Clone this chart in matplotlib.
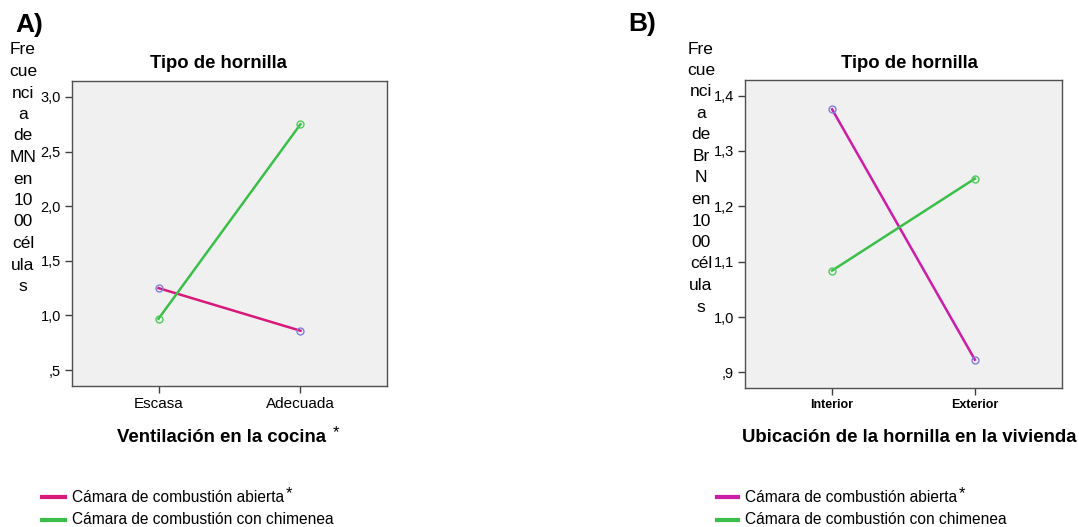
import matplotlib
matplotlib.use("Agg")
import matplotlib.pyplot as plt

plt.rcParams["font.family"] = ["Liberation Sans", "DejaVu Sans"]

# Panel A: micronuclei vs kitchen ventilation
vent_cats = ["Escasa", "Adecuada"]
mn_abierta = [1.25, 0.86]
mn_chimenea = [0.97, 2.75]
mn_ticks = [0.5, 1.0, 1.5, 2.0, 2.5, 3.0]
mn_ticklabels = [",5", "1,0", "1,5", "2,0", "2,5", "3,0"]

# Panel B: binucleated cells vs stove location
ubic_cats = ["Interior", "Exterior"]
brn_abierta = [1.375, 0.923]
brn_chimenea = [1.084, 1.250]
brn_ticks = [0.9, 1.0, 1.1, 1.2, 1.3, 1.4]
brn_ticklabels = [",9", "1,0", "1,1", "1,2", "1,3", "1,4"]

series_names = ["Cámara de combustión abierta", "Cámara de combustión con chimenea"]

W, H = 1079, 527
fig = plt.figure(figsize=(W / 100, H / 100), dpi=100)


def px(x0, y0, x1, y1):
    return [x0 / W, 1 - y1 / H, (x1 - x0) / W, (y1 - y0) / H]


def panel(rect, cats, ab, ch, ticks, ticklabels, ylim, ab_color, bold_x, xfs, yfs):
    ax = fig.add_axes(rect)
    ax.set_facecolor("#f0f0f0")
    xs = range(len(cats))
    ax.plot(xs, ab, color=ab_color, lw=1.8, marker="o", ms=5, mfc="none",
            mec="#7f7fe0", mew=1.0, zorder=3)
    ax.plot(xs, ch, color="#3cbf4a", lw=1.8, marker="o", ms=5, mfc="none",
            mec="#4ccc5a", mew=1.0, zorder=3)
    ax.set_xlim(-0.61, 1.61)
    ax.set_ylim(*ylim)
    ax.set_xticks(list(xs))
    ax.set_xticklabels(cats, fontsize=xfs, fontweight="bold" if bold_x else "normal")
    ax.set_yticks(ticks)
    ax.set_yticklabels(ticklabels, fontsize=yfs)
    ax.tick_params(length=5, width=1, color="#404040", pad=3)
    for s in ax.spines.values():
        s.set_color("#505050")
        s.set_linewidth(1.0)
    return ax


panel(px(72, 81, 387, 386), vent_cats, mn_abierta, mn_chimenea,
      mn_ticks, mn_ticklabels, (0.354, 3.146), "#d8197a", False, 11, 10.5)
panel(px(745, 80, 1062, 388), ubic_cats, brn_abierta, brn_chimenea,
      brn_ticks, brn_ticklabels, (0.872, 1.428), "#cc1ca8", True, 9, 10.5)


def ftext(x, y, s, **kw):
    fig.text(x / W, 1 - y / H, s, **kw)


# panel letters
ftext(29, 25, "A)", fontsize=19, fontweight="bold", ha="center", va="center")
ftext(642, 24, "B)", fontsize=19, fontweight="bold", ha="center", va="center")

# titles
ftext(218, 63, "Tipo de hornilla", fontsize=13.3, fontweight="bold", ha="center", va="center")
ftext(909, 63, "Tipo de hornilla", fontsize=13.3, fontweight="bold", ha="center", va="center")

# stacked y labels
lab_a = ["Fre", "cue", "nci", "a", "de", "MN", "en", "10", "00", "cél", "ula", "s"]
lab_b = ["Fre", "cue", "nci", "a", "de", "Br", "N", "en", "10", "00", "cél", "ula", "s"]
for i, t in enumerate(lab_a):
    ftext(23, 50 + i * 21.5, t, fontsize=12.5, ha="center", va="center")
for i, t in enumerate(lab_b):
    ftext(701, 49 + i * 21.5, t, fontsize=12.5, ha="center", va="center")

# x labels
ftext(117, 437, "Ventilación en la cocina", fontsize=13.4, fontweight="bold", ha="left", va="center")
ftext(333, 433, "*", fontsize=12, ha="left", va="center")
ftext(909, 437, "Ubicación de la hornilla en la vivienda", fontsize=13.4, fontweight="bold",
      ha="center", va="center")

# legends
for lx0, lx1, tx, ab_color in [(42, 65, 72, "#d8197a"), (717, 738, 745, "#cc1ca8")]:
    for j, (name, col) in enumerate(zip(series_names, [ab_color, "#3cbf4a"])):
        y = 497 + j * 23
        fig.add_artist(plt.Line2D([lx0 / W, lx1 / W], [1 - y / H, 1 - y / H],
                                  color=col, lw=3, transform=fig.transFigure))
        ftext(tx, y, name, fontsize=11.2, ha="left", va="center")
    ftext(tx + 214, 494, "*", fontsize=12, ha="left", va="center")

fig.savefig("out.png", dpi=100)
